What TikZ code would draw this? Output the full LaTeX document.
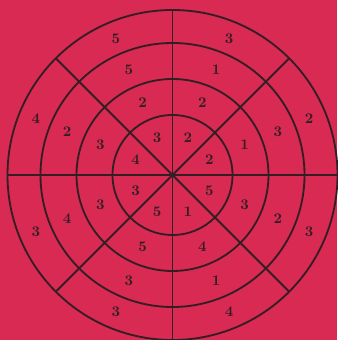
\documentclass[tikz,border=0pt]{standalone}
\usepackage{xcolor}
\usepackage{tikz}
\usetikzlibrary{positioning,calc}

\definecolor{bgred}{RGB}{216,42,82}
\definecolor{inkdark}{RGB}{52,30,36}

\begin{document}
\begin{tikzpicture}[
  x=0.025cm, y=0.025cm,
  ring/.style={draw=inkdark, line width=1.3pt},
  spoke/.style={draw=inkdark, line width=1.3pt},
  num/.style={font=\fontsize{10.5}{10.5}\selectfont\bfseries, text=inkdark, inner sep=0pt}
]
% ---------------- background
\fill[bgred] (0,0) rectangle (337,340);
\useasboundingbox (0,0) rectangle (337,340);
\coordinate (c) at (172.5,165);
% ---------------- rings
\draw[ring] (c) circle (60);
\draw[ring] (c) circle (96);
\draw[ring] (c) circle (132);
\draw[ring] (c) circle (165);
% ---------------- spokes
\draw[spoke] ($(c)+(0:165)$) -- ($(c)+(180:165)$);
\draw[spoke] ($(c)+(90:165)$) -- ($(c)+(270:165)$);
\draw[spoke] ($(c)+(45:165)$) -- ($(c)+(225:165)$);
\draw[spoke] ($(c)+(135:165)$) -- ($(c)+(315:165)$);
% ---------------- numbers: sector angle / inner, second, third, outer
\foreach \a/\p/\q/\r/\s [count=\k] in {
    22.5/2/1/3/2, 67.5/2/2/1/3, 112.5/3/2/5/5, 157.5/4/3/2/4,
    202.5/3/3/4/3, 247.5/5/5/3/3, 292.5/1/4/1/4, 337.5/5/3/2/3} {
  \node[num] (n\k a) at ($(c)+(\a:40)$)  {\p};
  \node[num] (n\k b) at ($(c)+(\a:78)$)  {\q};
  \node[num] (n\k c) at ($(c)+(\a:114)$) {\r};
  \node[num] (n\k d) at ($(c)+(\a:148)$) {\s};
}
\end{tikzpicture}
\end{document}
